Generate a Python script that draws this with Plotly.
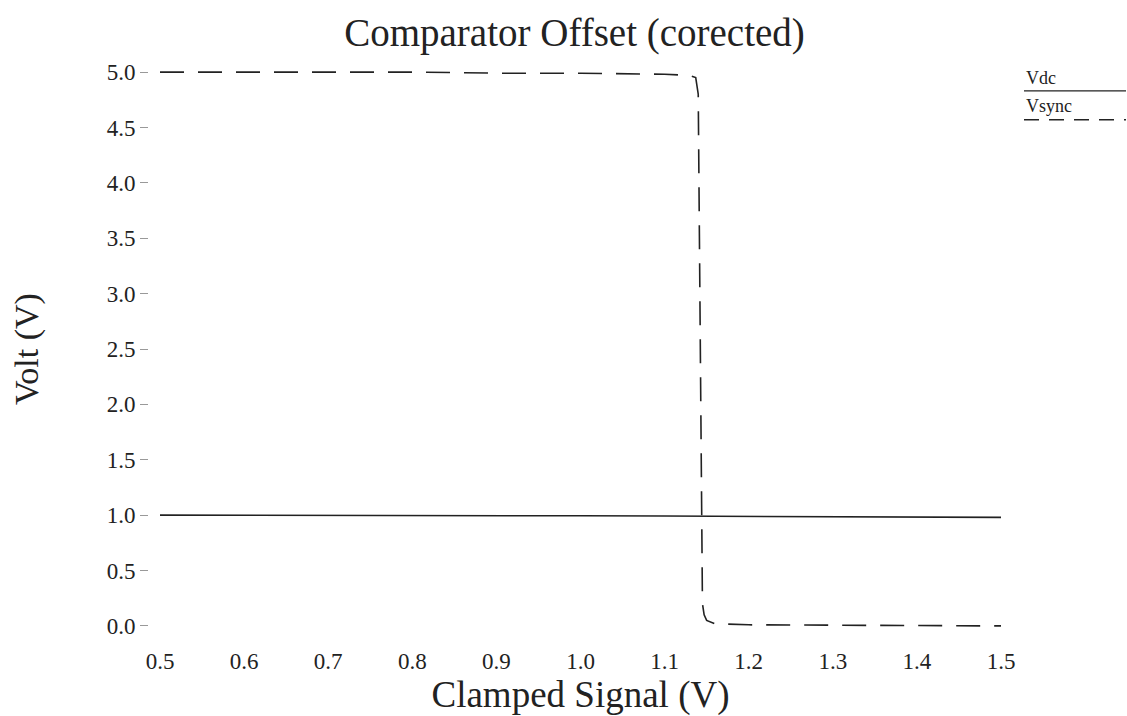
import plotly.graph_objects as go

# Data
vdc_x = [0.5, 0.6, 0.7, 0.8, 0.9, 1.0, 1.1, 1.2, 1.3, 1.4, 1.5]
vdc_y = [1.0, 1.0, 1.0, 0.998, 0.996, 0.994, 0.992, 0.99, 0.988, 0.984, 0.98]

vsync_x = [0.5, 0.6, 0.7, 0.8, 0.9, 1.0, 1.1, 1.13, 1.137, 1.140, 1.145, 1.147, 1.150, 1.16, 1.2, 1.3, 1.4, 1.5]
vsync_y = [5.0, 5.0, 5.0, 5.0, 4.99, 4.99, 4.98, 4.97, 4.95, 4.80, 0.20, 0.10, 0.05, 0.02, 0.01, 0.005, 0.0, 0.0]

x_ticks = [0.5, 0.6, 0.7, 0.8, 0.9, 1.0, 1.1, 1.2, 1.3, 1.4, 1.5]
y_ticks = [0.0, 0.5, 1.0, 1.5, 2.0, 2.5, 3.0, 3.5, 4.0, 4.5, 5.0]

FONT = "Liberation Serif, Times New Roman, serif"
INK = "#222222"

fig = go.Figure()
fig.add_trace(go.Scatter(x=vdc_x, y=vdc_y, mode="lines", name="Vdc",
                         line=dict(color=INK, width=1.6)))
fig.add_trace(go.Scatter(x=vsync_x, y=vsync_y, mode="lines", name="Vsync",
                         line=dict(color=INK, width=1.6, dash="24px,14px")))

W, H = 1127, 716
ml, mr, mt, mb = 148, 126, 61, 77
plot_w = W - ml - mr
dom0 = 12 / plot_w

fig.update_layout(
    width=W, height=H,
    margin=dict(l=ml, r=mr, t=mt, b=mb),
    paper_bgcolor="white", plot_bgcolor="white",
    showlegend=False,
    font=dict(family=FONT, color=INK, size=23),
    title=dict(text="Comparator Offset (corected)", x=0.5, xanchor="center",
               xref="paper", y=0.955, yanchor="middle", yref="container",
               font=dict(size=39, family=FONT, color=INK)),
    xaxis=dict(range=[0.5, 1.5], domain=[dom0, 1], tickvals=x_ticks,
               ticktext=[f"{v:.1f}" for v in x_ticks], showgrid=False,
               zeroline=False, showline=False, ticks="", ticklabelstandoff=8,
               tickfont=dict(size=23),
               title=dict(text="Clamped Signal (V)", standoff=4,
                          font=dict(size=37, family=FONT, color=INK))),
    yaxis=dict(range=[-0.1, 5.1], anchor="free", position=0,
               tickvals=y_ticks, ticktext=[f"{v:.1f}" for v in y_ticks],
               showgrid=False, zeroline=False, showline=False,
               ticks="outside", ticklen=8, tickcolor="#999999", tickwidth=1,
               tickfont=dict(size=23),
               title=dict(text="Volt (V)", standoff=56,
                          font=dict(size=34, family=FONT, color=INK))),
)

# Custom legend: label above its line sample (paper coordinates)
def py(pix):
    return 1 - (pix - mt) / (H - mt - mb)

def px(pix):
    return (pix - ml) / plot_w

fig.add_annotation(text="Vdc", xref="paper", yref="paper", x=px(1024), y=py(78),
                   xanchor="left", yanchor="middle", showarrow=False,
                   font=dict(size=18, family=FONT, color=INK))
fig.add_shape(type="line", xref="paper", yref="paper", x0=px(1024), x1=px(1126),
              y0=py(91), y1=py(91), line=dict(color=INK, width=1.3))
fig.add_annotation(text="Vsync", xref="paper", yref="paper", x=px(1024), y=py(106),
                   xanchor="left", yanchor="middle", showarrow=False,
                   font=dict(size=18, family=FONT, color=INK))
fig.add_shape(type="line", xref="paper", yref="paper", x0=px(1024), x1=px(1126),
              y0=py(120), y1=py(120), line=dict(color=INK, width=1.5, dash="15px,10px"))

fig.write_html("out.html")
